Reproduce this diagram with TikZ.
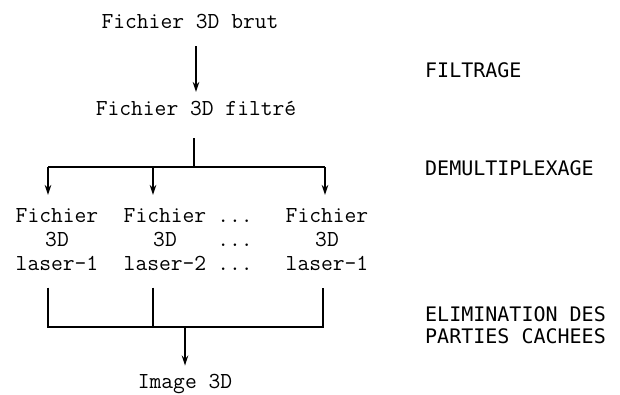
\documentclass[tikz,border=0pt]{standalone}
\usepackage{fontspec}
\newfontfamily\lblfont{DejaVu Sans Mono}
\usetikzlibrary{arrows.meta,calc}
\begin{document}
\begin{tikzpicture}[x=1pt,y=-1pt,
  txt/.style={font=\fontsize{22.9}{24}\selectfont\ttfamily, inner sep=0pt, align=center},
  lab/.style={font=\fontsize{20}{22}\selectfont\lblfont, inner sep=0pt, align=left},
  ln/.style={line width=1.3pt},
  arr/.style={line width=1.4pt, -{Stealth[length=10pt,width=6.5pt]}}]
\useasboundingbox (0,0) rectangle (620,394);

% main column
\node[txt,anchor=base] (brut) at (190,28) {Fichier 3D brut};
\node[txt,anchor=base] (filt) at (196,115) {Fichier 3D filtré};
\node[txt,anchor=north] (c1) at (57,208) {Fichier\\3D\\laser-1};
\node[txt,anchor=north] (c2) at (165,208) {Fichier\\3D\\laser-2};
\node[txt,anchor=north] (c3) at (235,208) {\vphantom{Fh}...\\...\\...};
\node[txt,anchor=north] (c4) at (327,208) {Fichier\\3D\\laser-1};
\node[txt,anchor=base] (img) at (185,388) {Image 3D};

% stage labels
\node[lab,anchor=base west] (l1) at (425,77) {FILTRAGE};
\node[lab,anchor=base west] (l2) at (425,175) {DEMULTIPLEXAGE};
\node[lab,anchor=north west] (l3) at (425,306.5) {ELIMINATION DES\\PARTIES CACHEES};

% filtering arrow
\draw[arr] ($(brut.base)+(6,18)$) -- ($(filt.base)+(0,-23)$);

% demultiplexing
\coordinate (sp) at ($(filt.base)+(-2,52)$);
\coordinate (h1) at (48,167);
\coordinate (h2) at (153,167);
\coordinate (h4) at (325,167);
\draw[ln] ($(filt.base)+(-2,23)$) -- (sp);
\draw[ln] (h1) -- (h4);
\draw[arr,shorten >=13pt] (h1) -- (h1 |- c1.north);
\draw[arr,shorten >=13pt] (h2) -- (h2 |- c2.north);
\draw[arr,shorten >=13pt] (h4) -- (h4 |- c4.north);

% hidden parts elimination
\coordinate (b1) at (48,327);
\coordinate (b2) at (153,327);
\coordinate (b4) at (323,327);
\draw[ln,shorten <=17pt,shorten >=17pt] (b1 |- c1.south) -- (b1) -- (b4) -- (b4 |- c4.south);
\draw[ln,shorten <=17pt] (b2 |- c2.south) -- (b2);
\draw[arr,shorten >=8pt] (img.north |- b1) -- (img.north);
\end{tikzpicture}
\end{document}
